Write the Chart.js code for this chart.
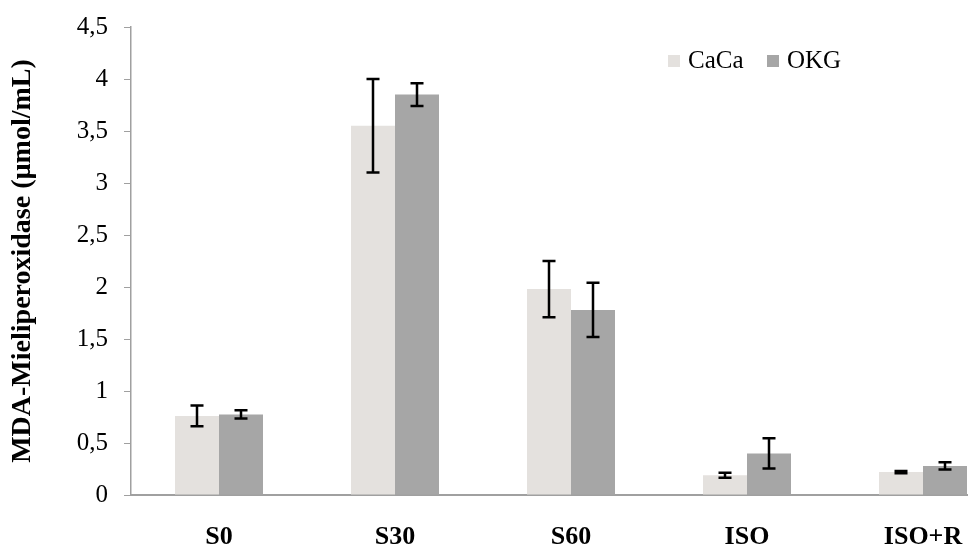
<!DOCTYPE html>
<html>
<head>
<meta charset="utf-8">
<script src="https://cdn.jsdelivr.net/npm/chart.js@4/dist/chart.umd.min.js"></script>
<style>
  html, body { margin: 0; padding: 0; background: #fff; overflow: hidden; width: 968px; height: 544px; }
  canvas { display: block; }
</style>
</head>
<body>
<canvas id="myChart" width="1015" height="544"></canvas>
<script>
const categories = ["S0", "S30", "S60", "ISO", "ISO+R"];
const cacaValues = [0.76, 3.55, 1.98, 0.19, 0.22];
const cacaErrors = [0.10, 0.45, 0.27, 0.025, 0.01];
const okgValues = [0.775, 3.85, 1.78, 0.40, 0.28];
const okgErrors = [0.04, 0.11, 0.26, 0.145, 0.035];
const yTicks = [0, 0.5, 1, 1.5, 2, 2.5, 3, 3.5, 4, 4.5];

const serif = "'Liberation Serif', 'Times New Roman', serif";

// error bars, drawn through the y scale
const errorBars = {
  id: "errorBars",
  afterDatasetsDraw(chart) {
    const ctx = chart.ctx;
    const y = chart.scales.y;
    ctx.save();
    ctx.strokeStyle = "#000";
    ctx.lineWidth = 2.5;
    chart.data.datasets.forEach((ds, i) => {
      const meta = chart.getDatasetMeta(i);
      meta.data.forEach((bar, j) => {
        const v = ds.data[j];
        const e = ds.errors[j];
        const top = y.getPixelForValue(v + e);
        const bottom = y.getPixelForValue(v - e);
        ctx.beginPath();
        ctx.moveTo(bar.x, top);
        ctx.lineTo(bar.x, bottom);
        ctx.moveTo(bar.x - 6.5, top);
        ctx.lineTo(bar.x + 6.5, top);
        ctx.moveTo(bar.x - 6.5, bottom);
        ctx.lineTo(bar.x + 6.5, bottom);
        ctx.stroke();
      });
    });
    ctx.restore();
  },
};

// legend inside the plot, top right
const sideLegend = {
  id: "sideLegend",
  afterDraw(chart) {
    const ctx = chart.ctx;
    const pos = [668, 767];
    ctx.save();
    ctx.font = "25px " + serif;
    ctx.textBaseline = "middle";
    chart.data.datasets.forEach((ds, i) => {
      ctx.fillStyle = ds.backgroundColor;
      ctx.fillRect(pos[i], 55, 12, 12);
      ctx.fillStyle = "#000";
      ctx.fillText(ds.label, pos[i] + 20, 61);
    });
    ctx.restore();
  },
};

new Chart(document.getElementById("myChart"), {
  type: "bar",
  data: {
    labels: categories,
    datasets: [
      {
        label: "CaCa",
        data: cacaValues,
        errors: cacaErrors,
        backgroundColor: "#e4e1de",
        categoryPercentage: 0.5,
        barPercentage: 1.0,
      },
      {
        label: "OKG",
        data: okgValues,
        errors: okgErrors,
        backgroundColor: "#a6a6a6",
        categoryPercentage: 0.5,
        barPercentage: 1.0,
      },
    ],
  },
  options: {
    responsive: false,
    animation: false,
    devicePixelRatio: 1,
    layout: { padding: { top: 27, right: 4, left: 0, bottom: 0 } },
    plugins: {
      legend: { display: false },
      tooltip: { enabled: false },
    },
    scales: {
      x: {
        grid: { display: true, drawOnChartArea: false, drawTicks: false },
        border: { color: "#a0a0a0", width: 2 },
        ticks: {
          color: "#000",
          padding: 27,
          font: { family: serif, size: 26, weight: "bold" },
        },
        afterFit(scale) { scale.height = 49; },
      },
      y: {
        min: 0,
        max: 4.5,
        afterBuildTicks(scale) {
          scale.ticks = yTicks.map((v) => ({ value: v }));
        },
        grid: { drawOnChartArea: false, drawTicks: true, tickLength: 7, color: "#a0a0a0" },
        border: { color: "#a0a0a0", width: 1.5 },
        ticks: {
          color: "#000",
          padding: 16,
          font: { family: serif, size: 25 },
          callback: (v) => String(v).replace(".", ","),
        },
        title: {
          display: true,
          text: "MDA-Mieliperoxidase (µmol/mL)",
          color: "#000",
          padding: { top: 6, bottom: 0 },
          font: { family: serif, size: 28, weight: "bold" },
        },
        afterFit(scale) {
          scale.width = 131;
          scale.paddingTop = 0;
          scale.paddingBottom = 0;
        },
      },
    },
  },
  plugins: [errorBars, sideLegend],
});
</script>
</body>
</html>
